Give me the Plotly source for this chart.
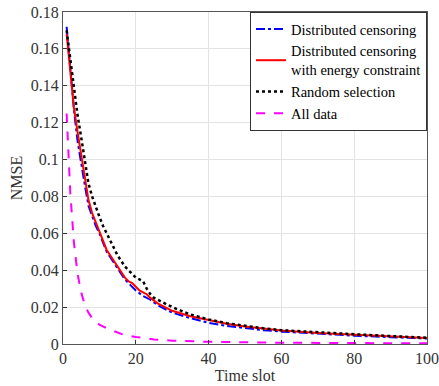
import plotly.graph_objects as go

# Distributed censoring
t_dc = [1, 2, 3, 4, 5, 6, 7, 8, 9, 10, 11, 12, 13, 14, 15, 16, 17, 18, 19, 20,
        22, 24, 26, 28, 30, 35, 40, 45, 50, 55, 60, 70, 80, 90, 100]
v_dc = [0.172, 0.150, 0.127, 0.110, 0.097, 0.086, 0.075, 0.069, 0.064, 0.060,
        0.055, 0.050, 0.047, 0.044, 0.041, 0.038, 0.035, 0.033, 0.031, 0.029,
        0.026, 0.024, 0.021, 0.019, 0.017, 0.014, 0.0115, 0.0098, 0.0085, 0.0075,
        0.0067, 0.0055, 0.0045, 0.0037, 0.0030]

# Distributed censoring with energy constraint
t_ec = [1, 2, 3, 4, 5, 6, 7, 8, 9, 10, 11, 12, 13, 14, 15, 16, 17, 18, 19, 20,
        21, 22, 23, 24, 26, 28, 30, 35, 40, 45, 50, 55, 60, 70, 80, 90, 100]
v_ec = [0.168, 0.148, 0.128, 0.115, 0.103, 0.090, 0.078, 0.071, 0.066, 0.061,
        0.056, 0.051, 0.048, 0.045, 0.042, 0.039, 0.036, 0.034, 0.033, 0.031,
        0.029, 0.028, 0.027, 0.025, 0.022, 0.020, 0.018, 0.015, 0.0128, 0.011,
        0.0095, 0.0083, 0.0073, 0.0060, 0.0052, 0.0042, 0.0033]

# Random selection
t_rs = [1, 2, 3, 4, 5, 6, 7, 8, 9, 10, 11, 12, 13, 14, 15, 16, 17, 18, 19, 20,
        21, 22, 23, 24, 25, 27, 30, 35, 40, 45, 50, 55, 60, 70, 80, 90, 100]
v_rs = [0.170, 0.155, 0.138, 0.124, 0.112, 0.099, 0.087, 0.080, 0.074, 0.069,
        0.064, 0.060, 0.056, 0.052, 0.048, 0.045, 0.042, 0.040, 0.038, 0.036,
        0.035, 0.034, 0.030, 0.027, 0.025, 0.023, 0.020, 0.016, 0.0133, 0.0113,
        0.0097, 0.0085, 0.0075, 0.0062, 0.0053, 0.0043, 0.0034]

# All data
t_ad = [1, 2, 3, 4, 5, 6, 7, 8, 9, 10, 12, 14, 16, 18, 20, 25, 30, 40, 50, 60, 80, 100]
v_ad = [0.125, 0.082, 0.055, 0.038, 0.028, 0.021, 0.017, 0.014, 0.012, 0.0105,
        0.0085, 0.0068, 0.0055, 0.0045, 0.0038, 0.0025, 0.0018, 0.0012, 0.0009,
        0.0007, 0.0005, 0.0004]

x_ticks = [0, 20, 40, 60, 80, 100]
y_ticks = [0, 0.02, 0.04, 0.06, 0.08, 0.1, 0.12, 0.14, 0.16, 0.18]
y_tick_text = ["0", "0.02", "0.04", "0.06", "0.08", "0.1", "0.12", "0.14", "0.16", "0.18"]

SERIF = "Liberation Serif"

fig = go.Figure()
fig.add_trace(go.Scatter(x=t_dc, y=v_dc, mode="lines", name="Distributed censoring",
                         line=dict(color="#0000ff", width=2, dash="dashdot")))
fig.add_trace(go.Scatter(x=t_ec, y=v_ec, mode="lines",
                         name="Distributed censoring<br>with energy constraint",
                         line=dict(color="#ff0000", width=2)))
fig.add_trace(go.Scatter(x=t_rs, y=v_rs, mode="lines", name="Random selection",
                         line=dict(color="#000000", width=2.5, dash="dot")))
fig.add_trace(go.Scatter(x=t_ad, y=v_ad, mode="lines", name="All data",
                         line=dict(color="#ff00ff", width=2, dash="dash")))

axis_common = dict(showgrid=True, gridcolor="#e3e3e3", gridwidth=1, zeroline=False,
                   showline=True, linecolor="#555555", linewidth=1, mirror=True,
                   ticks="inside", ticklen=4, tickcolor="#333333", automargin=False,
                   tickfont=dict(family=SERIF, size=16, color="#333333"))

fig.update_xaxes(range=[0, 100], tickvals=x_ticks, title=dict(text="Time slot", standoff=0,
                 font=dict(family=SERIF, size=16, color="#333333")), **axis_common)
fig.update_yaxes(range=[0, 0.18], tickvals=y_ticks, ticktext=y_tick_text,
                 title=dict(text="NMSE", standoff=4,
                            font=dict(family=SERIF, size=16, color="#333333")),
                 **axis_common)

fig.update_layout(
    width=439, height=386,
    margin=dict(l=63, r=12, t=12, b=42),
    plot_bgcolor="white", paper_bgcolor="white",
    font=dict(family=SERIF),
    legend=dict(x=1, y=1, xanchor="right", yanchor="top", bgcolor="white",
                bordercolor="#333333", borderwidth=1, itemwidth=30, tracegroupgap=0,
                font=dict(family=SERIF, size=14.5, color="#000000")),
)

fig.write_html("out.html", config={"displayModeBar": False},
               post_script="document.body.style.margin='0';document.body.style.overflow='hidden';")
